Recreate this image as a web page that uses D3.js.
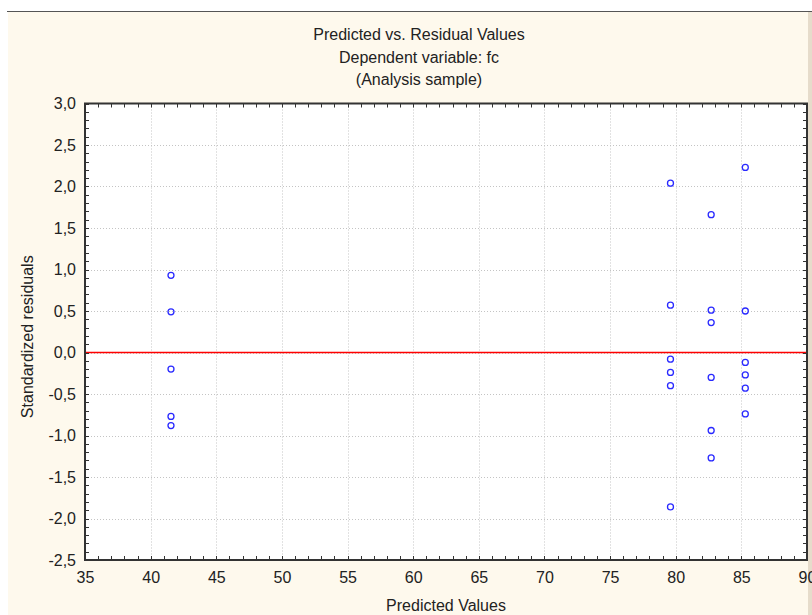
<!DOCTYPE html>
<html><head><meta charset="utf-8">
<script src="https://cdn.jsdelivr.net/npm/d3@7"></script>
<style>
html,body{margin:0;padding:0;background:#fff;}
svg{display:block;}
text{font-family:"Liberation Sans",Arial,sans-serif;fill:#222;}
</style></head>
<body><svg id="c" width="812" height="615"></svg>
<script>
const titleLines = ["Predicted vs. Residual Values", "Dependent variable: fc", "(Analysis sample)"];
const xLabel = "Predicted Values";
const yLabel = "Standardized residuals";
const xTicks = [35,40,45,50,55,60,65,70,75,80,85,90];
const yTicks = [3.0,2.5,2.0,1.5,1.0,0.5,0.0,-0.5,-1.0,-1.5,-2.0,-2.5];
// predicted values (x) and standardized residuals (y)
const predicted = [
  41.55,41.55,41.55,41.55,41.55,
  79.6,79.6,79.6,79.6,79.6,79.6,
  82.7,82.7,82.7,82.7,82.7,82.7,
  85.3,85.3,85.3,85.3,85.3,85.3
];
const residuals = [
  0.93,0.49,-0.20,-0.77,-0.88,
  2.04,0.57,-0.08,-0.24,-0.40,-1.86,
  1.66,0.51,0.36,-0.30,-0.94,-1.27,
  2.23,0.50,-0.12,-0.27,-0.43,-0.74
];

const svg = d3.select("#c");
const L = 85, R = 807, T = 103.5, B = 560;
const x = d3.scaleLinear().domain([35,90]).range([L,R]);
const y = d3.scaleLinear().domain([-2.5,3.0]).range([B,T]);

// background
svg.append("rect").attr("x",8).attr("y",11).attr("width",804).attr("height",604).attr("fill","#fef9ed");
svg.append("line").attr("x1",7).attr("x2",812).attr("y1",11.5).attr("y2",11.5).attr("stroke","#555").attr("stroke-width",1);
svg.append("rect").attr("x",808).attr("y",12).attr("width",4).attr("height",603).attr("fill","#e6dccb");
svg.append("rect").attr("x",L).attr("y",T).attr("width",R-L).attr("height",B-T).attr("fill","#fff");

// grid
const g = svg.append("g");
g.selectAll(".gx").data(xTicks.slice(1,-1)).join("line")
  .attr("x1",d=>Math.round(x(d))+0.5).attr("x2",d=>Math.round(x(d))+0.5)
  .attr("y1",T).attr("y2",B).attr("stroke","#c4c4c4").attr("stroke-dasharray","1,2");
g.selectAll(".gy").data(yTicks.slice(1,-1)).join("line")
  .attr("y1",d=>Math.round(y(d))+0.5).attr("y2",d=>Math.round(y(d))+0.5)
  .attr("x1",L).attr("x2",R).attr("stroke","#c4c4c4").attr("stroke-dasharray","1,2");

// zero line
svg.append("line").attr("x1",L).attr("x2",R).attr("y1",y(0)).attr("y2",y(0))
  .attr("stroke","#ff0000").attr("stroke-width",1.5);

// axes with inward ticks
const xMinor = d3.range(35,90.01,1);
const yMinor = d3.range(-2.5,3.01,0.1);
const fmt = d => d3.format(".1f")(d).replace(".",",").replace("\u2212","-");
const axB = d3.axisBottom(x).tickValues(xTicks).tickSize(0).tickPadding(12).tickFormat(d3.format("d"));
const axL = d3.axisLeft(y).tickValues(yTicks).tickSize(0).tickPadding(9).tickFormat(fmt);
const gb = svg.append("g").attr("transform",`translate(0,${B})`).call(axB);
const gl = svg.append("g").attr("transform",`translate(${L},0)`).call(axL);
[gb,gl].forEach(a=>{a.select(".domain").remove();a.selectAll("text").attr("font-size",16).attr("fill","#222").style("font-family",'"Liberation Sans",Arial,sans-serif');});

const tk = svg.append("g").attr("stroke","#333").attr("stroke-width",1);
xMinor.forEach(v=>{
  const px = Math.round(x(v))+0.5;
  tk.append("line").attr("x1",px).attr("x2",px).attr("y1",B).attr("y2",B-4);
  tk.append("line").attr("x1",px).attr("x2",px).attr("y1",T).attr("y2",T+4);
});
yMinor.forEach(v=>{
  const py = Math.round(y(v))+0.5;
  tk.append("line").attr("y1",py).attr("y2",py).attr("x1",L).attr("x2",L+4);
  tk.append("line").attr("y1",py).attr("y2",py).attr("x1",R).attr("x2",R-4);
});
svg.append("rect").attr("x",L).attr("y",T).attr("width",R-L).attr("height",B-T)
  .attr("fill","none").attr("stroke","#333").attr("stroke-width",2);

// points
svg.append("g").selectAll("circle").data(predicted.map((p,i)=>[p,residuals[i]])).join("circle")
  .attr("cx",d=>x(d[0])).attr("cy",d=>y(d[1])).attr("r",3)
  .attr("fill","none").attr("stroke","#2a2aff").attr("stroke-width",1.3);

// titles
svg.append("g").selectAll("text").data(titleLines).join("text")
  .attr("x",419).attr("y",(d,i)=>40+i*22.5).attr("text-anchor","middle").attr("font-size",16).text(d=>d);
svg.append("text").attr("x",(L+R)/2).attr("y",611).attr("text-anchor","middle").attr("font-size",16).text(xLabel);
svg.append("text").attr("transform",`translate(33,${(T+B)/2+5}) rotate(-90)`).attr("text-anchor","middle").attr("font-size",16).text(yLabel);
</script></body></html>
